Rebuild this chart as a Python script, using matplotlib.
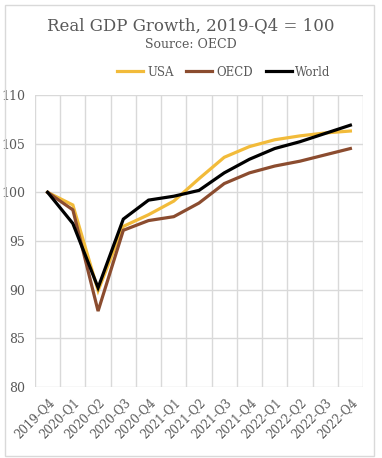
import matplotlib
matplotlib.use("Agg")
import matplotlib.pyplot as plt
from matplotlib.patches import Rectangle
from matplotlib.ticker import FixedLocator

quarters = ["2019-Q4", "2020-Q1", "2020-Q2", "2020-Q3", "2020-Q4", "2021-Q1", "2021-Q2",
            "2021-Q3", "2021-Q4", "2022-Q1", "2022-Q2", "2022-Q3", "2022-Q4"]
usa = [100.0, 98.7, 89.9, 96.5, 97.7, 99.1, 101.4, 103.6, 104.7, 105.4, 105.8, 106.1, 106.3]
oecd = [100.0, 98.2, 87.8, 96.1, 97.1, 97.5, 98.9, 100.9, 102.0, 102.7, 103.2, 103.85, 104.5]
world = [100.0, 96.8, 90.2, 97.25, 99.2, 99.6, 100.2, 102.0, 103.4, 104.5, 105.2, 106.05, 106.9]
yticks = [80, 85, 90, 95, 100, 105, 110]

series_names = ["USA", "OECD", "World"]
series_colors = ["#F2BB3A", "#8B4C2F", "#000000"]

W, H = 382, 458
fig = plt.figure(figsize=(W / 100, H / 100), dpi=100)
fig.patch.set_facecolor("white")

# outer border
fig.patches.append(Rectangle((5 / W, 1 - 456 / H), (374 - 5) / W, (456 - 5) / H,
                             transform=fig.transFigure, fill=False,
                             edgecolor="#D9D9D9", linewidth=1.0))

ax = fig.add_axes([35 / W, 1 - 387 / H, (363 - 35) / W, (387 - 95) / H])
x = list(range(len(quarters)))
for name, vals, col in zip(series_names, [usa, oecd, world], series_colors):
    ax.plot(x, vals, color=col, linewidth=2.3, solid_joinstyle="miter", label=name, zorder=3)

ax.set_xlim(-0.5, len(quarters) - 0.5)
ax.set_ylim(80, 110)
ax.set_yticks(yticks)
ax.set_xticks(x)
ax.set_xticklabels(quarters, rotation=45, ha="right", rotation_mode="anchor")
ax.xaxis.set_minor_locator(FixedLocator([i - 0.5 for i in range(len(quarters) + 1)]))
ax.grid(True, which="minor", axis="x", color="#D9D9D9", linewidth=1.0)
ax.grid(True, which="major", axis="y", color="#D9D9D9", linewidth=1.0)
ax.grid(False, which="major", axis="x")
ax.set_axisbelow(True)
for s in ax.spines.values():
    s.set_visible(False)
ax.tick_params(axis="both", which="both", length=0)
ax.tick_params(axis="y", pad=7, labelsize=9, labelcolor="#595959")
ax.tick_params(axis="x", pad=6, labelsize=8.5, labelcolor="#595959")
for lab in ax.get_xticklabels() + ax.get_yticklabels():
    lab.set_family("DejaVu Serif")

fig.text(0.5, 1 - 26 / H, "Real GDP Growth, 2019-Q4 = 100", ha="center", va="center",
         fontsize=12, color="#595959", family="DejaVu Serif")
fig.text(0.5, 1 - 44 / H, "Source: OECD", ha="center", va="center",
         fontsize=9, color="#595959", family="DejaVu Serif")

leg = fig.legend(loc="center", bbox_to_anchor=(224 / W, 1 - 72 / H), ncol=3, frameon=False,
                 handlelength=2.2, handletextpad=0.3, columnspacing=1.1,
                 prop={"family": "DejaVu Serif", "size": 8.5})
for t in leg.get_texts():
    t.set_color("#595959")

fig.savefig("out.png", dpi=100, facecolor="white")
